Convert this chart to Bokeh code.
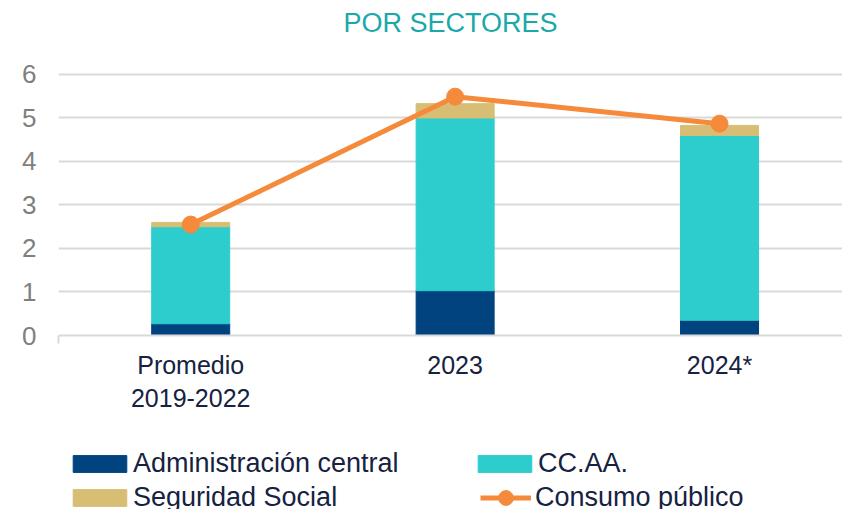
from bokeh.plotting import figure
from bokeh.models import Range1d, FixedTicker, Legend, LegendItem, ColumnDataSource
from bokeh.layouts import column
from bokeh.embed import file_html
from bokeh.resources import INLINE

categories = ["Promedio\n2019-2022", "2023", "2024*"]
admin_central = [0.27, 1.03, 0.35]
ccaa = [2.23, 3.97, 4.25]
seg_social = [0.10, 0.33, 0.23]
consumo_publico = [2.55, 5.49, 4.87]
y_ticks = [0, 1, 2, 3, 4, 5, 6]
series_names = ["Administración central", "CC.AA.", "Seguridad Social", "Consumo público"]

FONT = "Liberation Sans"
C_ADMIN = "#00437F"
C_CCAA = "#2DCCCD"
C_SS = "#D8BE75"
C_CONS = "#F58A3B"
TXT = "#16223F"

xs = list(range(len(categories)))
b1 = [a for a in admin_central]
b2 = [a + c for a, c in zip(admin_central, ccaa)]
b3 = [a + c + s for a, c, s in zip(admin_central, ccaa, seg_social)]
src = ColumnDataSource(dict(x=xs, zero=[0] * len(xs), b1=b1, b2=b2, b3=b3, cons=consumo_publico))


def draw_series(fig):
    w = 0.295
    ra = fig.vbar(x="x", bottom="zero", top="b1", width=w, source=src, fill_color=C_ADMIN, line_color=C_ADMIN)
    rc = fig.vbar(x="x", bottom="b1", top="b2", width=w, source=src, fill_color=C_CCAA, line_color=C_CCAA)
    rs = fig.vbar(x="x", bottom="b2", top="b3", width=w, source=src, fill_color=C_SS, line_color=C_SS)
    rl = fig.line(x="x", y="cons", source=src, line_color=C_CONS, line_width=5)
    rp = fig.scatter(x="x", y="cons", source=src, size=17, fill_color=C_CONS, line_color=C_CONS)
    return ra, rc, rs, rl, rp


p = figure(width=842, height=440, output_backend="svg", toolbar_location=None,
           x_range=Range1d(-0.5, 2.465), y_range=Range1d(0, 6.7356),
           min_border_left=58, min_border_right=0, min_border_top=42, min_border_bottom=105)
p.outline_line_color = None
p.background_fill_color = "white"

p.title.text = "POR SECTORES"
p.title.align = "center"
p.title.text_font = FONT
p.title.text_font_size = "27px"
p.title.text_font_style = "normal"
p.title.text_color = "#1BA8A8"
p.title.standoff = 9

draw_series(p)

# axes
p.xaxis.ticker = FixedTicker(ticks=xs, minor_ticks=[-0.5])
p.xaxis.major_label_overrides = {i: c for i, c in enumerate(categories)}
p.xaxis.major_label_text_font = FONT
p.xaxis.major_label_text_font_size = "25px"
p.xaxis.major_label_text_color = TXT
p.xaxis.major_label_standoff = 7
p.xaxis.major_tick_line_color = None
p.xaxis.major_tick_out = 0
p.xaxis.major_tick_in = 0
p.xaxis.minor_tick_line_color = "#D9D9D9"
p.xaxis.minor_tick_line_width = 2
p.xaxis.minor_tick_in = 0
p.xaxis.minor_tick_out = 8
p.xaxis.axis_line_color = "#D9D9D9"
p.xaxis.axis_line_width = 2

p.yaxis.ticker = FixedTicker(ticks=y_ticks)
p.yaxis.major_label_text_font = FONT
p.yaxis.major_label_text_font_size = "26px"
p.yaxis.major_label_text_color = "#7F7F7F"
p.yaxis.major_label_standoff = 22
p.yaxis.major_tick_line_color = None
p.yaxis.major_tick_out = 0
p.yaxis.major_tick_in = 0
p.yaxis.minor_tick_line_color = None
p.yaxis.axis_line_color = None

p.xgrid.grid_line_color = None
p.ygrid.ticker = FixedTicker(ticks=y_ticks)
p.ygrid.grid_line_color = "#D9D9D9"
p.ygrid.grid_line_width = 2

# legend strip: same series drawn out of view, only the legends show
lg = figure(width=842, height=69, output_backend="svg", toolbar_location=None,
            x_range=Range1d(-0.5, 2.465), y_range=Range1d(100, 101),
            x_axis_location=None, y_axis_location=None,
            min_border_left=58, min_border_right=0, min_border_top=0, min_border_bottom=0)
lg.outline_line_color = None
lg.grid.visible = False
l_admin, l_ccaa, l_ss, l_line, l_pts = draw_series(lg)


def style(leg, size):
    leg.padding = 0
    leg.margin = 0
    leg.border_line_color = None
    leg.background_fill_alpha = 0
    leg.label_text_font = FONT
    leg.label_text_font_size = size
    leg.label_text_color = TXT


leg_a = Legend(items=[
    LegendItem(label=series_names[0], renderers=[l_admin]),
    LegendItem(label=series_names[1], renderers=[l_ccaa]),
    LegendItem(label=series_names[2], renderers=[l_ss]),
], orientation="horizontal", ncols=2, location=(8, -4))
leg_a.glyph_width = 67
leg_a.glyph_height = 21
leg_a.label_width = 335
leg_a.label_standoff = 0
leg_a.spacing = 3
style(leg_a, "27px")
lg.add_layout(leg_a)

leg_b = Legend(items=[
    LegendItem(label=series_names[3], renderers=[l_line, l_pts]),
], orientation="horizontal", location=(422, -7))
leg_b.glyph_width = 51
leg_b.glyph_height = 37
leg_b.label_standoff = 4
leg_b.spacing = 0
style(leg_b, "27px")
lg.add_layout(leg_b)

open("out.html", "w").write(file_html(column(p, lg, spacing=0), INLINE))
